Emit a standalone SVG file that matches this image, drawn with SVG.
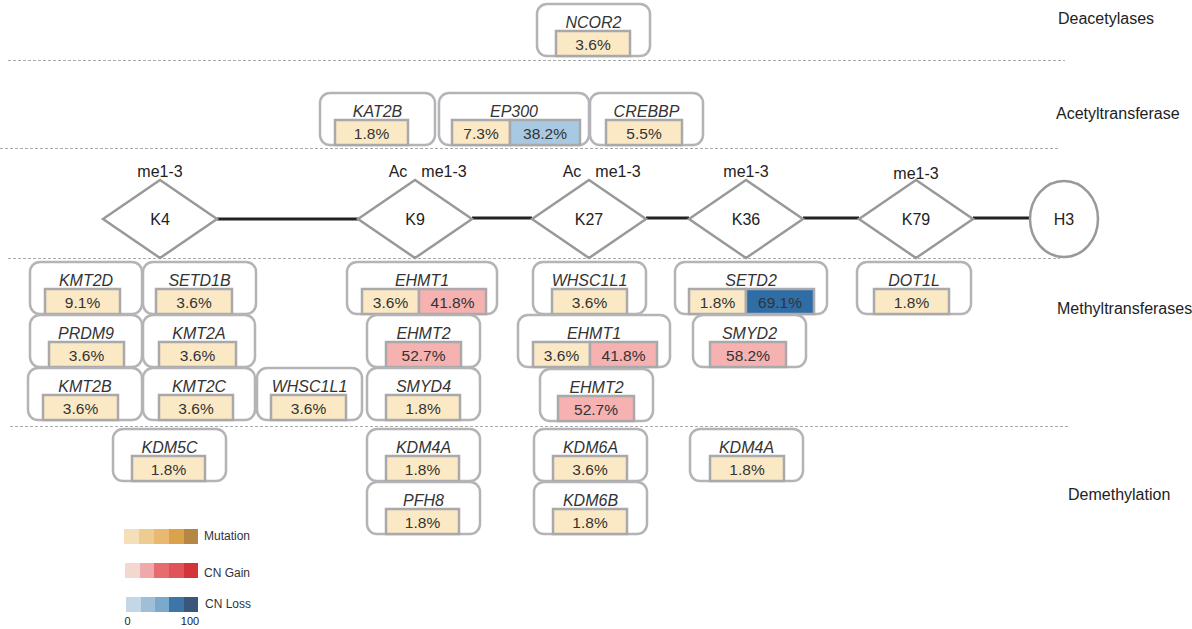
<svg xmlns="http://www.w3.org/2000/svg" width="1192" height="629" viewBox="0 0 1192 629">
<style>
text{font-family:"Liberation Sans",Arial,sans-serif;fill:#333}
.box{fill:#fff;stroke:#b4b4b8;stroke-width:2.5}
.v{stroke:#a9a9ab;stroke-width:2.5}
.y{fill:#fbe9c5}
.p{fill:#f6b1b1}
.lb{fill:#a9c9e2}
.db{fill:#2f6da6}
.g{font-size:16px;font-style:italic;text-anchor:middle}
.n{font-size:15.5px;text-anchor:middle}
.cat{font-size:16px;fill:#222}
.dash{stroke:#aaa;stroke-width:1;stroke-dasharray:3 2;fill:none}
.dia{fill:#fff;stroke:#999;stroke-width:2.5}
.k{font-size:16px;text-anchor:middle;fill:#222}
.conn{stroke:#222;stroke-width:3}
.leg{font-size:12px;fill:#333}
.ax{font-size:11px;text-anchor:middle;fill:#222}
</style>
<rect width="1192" height="629" fill="#fff"/>
<g id="separators">
<line class="dash" x1="8" y1="60.5" x2="1065" y2="60.5"/>
<line class="dash" x1="0" y1="148.5" x2="1060" y2="148.5"/>
<line class="dash" x1="8" y1="258.5" x2="1060" y2="258.5"/>
<line class="dash" x1="10" y1="426.5" x2="1068" y2="426.5"/>
</g>
<g id="categories">
<text class="cat" x="1058" y="24">Deacetylases</text>
<text class="cat" x="1056" y="119">Acetyltransferase</text>
<text class="cat" x="1057" y="314">Methyltransferases</text>
<text class="cat" x="1068" y="500">Demethylation</text>
</g>
<g id="connectors">
<line class="conn" x1="217" y1="219" x2="358" y2="219"/>
<line class="conn" x1="472" y1="218" x2="532" y2="218"/>
<line class="conn" x1="646" y1="218" x2="689" y2="218"/>
<line class="conn" x1="803" y1="218" x2="859" y2="218"/>
<line class="conn" x1="973" y1="218" x2="1030" y2="218"/>
</g>
<g id="K4">
<polygon class="dia" points="103,219 160,180 217,219 160,258"/>
<text class="k" x="160" y="225">K4</text>
<text class="k" x="160" y="177">me1-3</text>
</g>
<g id="K9">
<polygon class="dia" points="358,219 415,180 472,219 415,258"/>
<text class="k" x="415" y="225">K9</text>
<text class="k" x="398" y="177">Ac</text>
<text class="k" x="444" y="177">me1-3</text>
</g>
<g id="K27">
<polygon class="dia" points="532,219 589,180 646,219 589,258"/>
<text class="k" x="589" y="225">K27</text>
<text class="k" x="572" y="177">Ac</text>
<text class="k" x="618" y="177">me1-3</text>
</g>
<g id="K36">
<polygon class="dia" points="689,219 746,180 803,219 746,258"/>
<text class="k" x="746" y="225">K36</text>
<text class="k" x="746" y="177">me1-3</text>
</g>
<g id="K79">
<polygon class="dia" points="859,219 916,180 973,219 916,258"/>
<text class="k" x="916" y="225">K79</text>
<text class="k" x="916" y="179">me1-3</text>
</g>
<g id="H3">
<ellipse class="dia" cx="1064" cy="219" rx="34" ry="38"/>
<text class="k" x="1064" y="225">H3</text>
</g>

<g id="NCOR2">
<rect class="box" x="537" y="4" width="113" height="52" rx="10"/>
<text class="g" x="593.5" y="28">NCOR2</text>
<rect class="v y" x="556" y="31" width="74" height="25"/>
<text class="n" x="593" y="50">3.6%</text>
</g>
<g id="KAT2B">
<rect class="box" x="320" y="93" width="115" height="52" rx="10"/>
<text class="g" x="377.5" y="117">KAT2B</text>
<rect class="v y" x="335" y="120" width="73" height="25"/>
<text class="n" x="371.5" y="139">1.8%</text>
</g>
<g id="EP300">
<rect class="box" x="439" y="93" width="150" height="52" rx="10"/>
<text class="g" x="514" y="117">EP300</text>
<rect class="v y" x="452" y="120" width="58" height="25"/>
<rect class="v lb" x="510" y="120" width="70" height="25"/>
<text class="n" x="481" y="139">7.3%</text>
<text class="n" x="545" y="139">38.2%</text>
</g>
<g id="CREBBP">
<rect class="box" x="590" y="93" width="113" height="52" rx="10"/>
<text class="g" x="646.5" y="117">CREBBP</text>
<rect class="v y" x="606" y="120" width="76" height="25"/>
<text class="n" x="644" y="139">5.5%</text>
</g>

<g id="KMT2D">
<rect class="box" x="30" y="262" width="112" height="52" rx="10"/>
<text class="g" x="86" y="286">KMT2D</text>
<rect class="v y" x="45" y="289" width="75" height="25"/>
<text class="n" x="82.5" y="308">9.1%</text>
</g>
<g id="SETD1B">
<rect class="box" x="143" y="262" width="113" height="52" rx="10"/>
<text class="g" x="199.5" y="286">SETD1B</text>
<rect class="v y" x="156" y="289" width="76" height="25"/>
<text class="n" x="194" y="308">3.6%</text>
</g>
<g id="PRDM9">
<rect class="box" x="30" y="315" width="112" height="52" rx="10"/>
<text class="g" x="86" y="339">PRDM9</text>
<rect class="v y" x="49" y="342" width="75" height="25"/>
<text class="n" x="86.5" y="361">3.6%</text>
</g>
<g id="KMT2A">
<rect class="box" x="143" y="315" width="112" height="52" rx="10"/>
<text class="g" x="199" y="339">KMT2A</text>
<rect class="v y" x="159" y="342" width="77" height="25"/>
<text class="n" x="197.5" y="361">3.6%</text>
</g>
<g id="KMT2B">
<rect class="box" x="28" y="368" width="114" height="52" rx="10"/>
<text class="g" x="85" y="392">KMT2B</text>
<rect class="v y" x="43" y="395" width="75" height="25"/>
<text class="n" x="80.5" y="414">3.6%</text>
</g>
<g id="KMT2C">
<rect class="box" x="143" y="368" width="112" height="52" rx="10"/>
<text class="g" x="199" y="392">KMT2C</text>
<rect class="v y" x="159" y="395" width="74" height="25"/>
<text class="n" x="196" y="414">3.6%</text>
</g>
<g id="WHSC1L1-K4">
<rect class="box" x="257" y="368" width="105" height="52" rx="10"/>
<text class="g" x="309.5" y="392">WHSC1L1</text>
<rect class="v y" x="271" y="395" width="75" height="25"/>
<text class="n" x="308.5" y="414">3.6%</text>
</g>
<g id="EHMT1-K9">
<rect class="box" x="347" y="262" width="150" height="52" rx="10"/>
<text class="g" x="422" y="286">EHMT1</text>
<rect class="v y" x="362" y="289" width="57" height="25"/>
<rect class="v p" x="419" y="289" width="67" height="25"/>
<text class="n" x="390.5" y="308">3.6%</text>
<text class="n" x="452.5" y="308">41.8%</text>
</g>
<g id="EHMT2-K9">
<rect class="box" x="367" y="315" width="113" height="52" rx="10"/>
<text class="g" x="423.5" y="339">EHMT2</text>
<rect class="v p" x="386" y="342" width="75" height="25"/>
<text class="n" x="423.5" y="361">52.7%</text>
</g>
<g id="SMYD4">
<rect class="box" x="367" y="368" width="113" height="52" rx="10"/>
<text class="g" x="423.5" y="392">SMYD4</text>
<rect class="v y" x="386" y="395" width="74" height="25"/>
<text class="n" x="423" y="414">1.8%</text>
</g>
<g id="WHSC1L1-K27">
<rect class="box" x="533" y="262" width="113" height="52" rx="10"/>
<text class="g" x="589.5" y="286">WHSC1L1</text>
<rect class="v y" x="552" y="289" width="75" height="25"/>
<text class="n" x="589.5" y="308">3.6%</text>
</g>
<g id="EHMT1-K27">
<rect class="box" x="518" y="315" width="152" height="52" rx="10"/>
<text class="g" x="594" y="339">EHMT1</text>
<rect class="v y" x="533" y="342" width="57" height="25"/>
<rect class="v p" x="590" y="342" width="67" height="25"/>
<text class="n" x="561.5" y="361">3.6%</text>
<text class="n" x="623.5" y="361">41.8%</text>
</g>
<g id="EHMT2-K27">
<rect class="box" x="540" y="369" width="113" height="52" rx="10"/>
<text class="g" x="596.5" y="393">EHMT2</text>
<rect class="v p" x="558" y="396" width="76" height="25"/>
<text class="n" x="596" y="415">52.7%</text>
</g>
<g id="SETD2">
<rect class="box" x="675" y="262" width="152" height="52" rx="10"/>
<text class="g" x="751" y="286">SETD2</text>
<rect class="v y" x="689" y="289" width="57" height="25"/>
<rect class="v db" x="746" y="289" width="68" height="25"/>
<text class="n" x="717.5" y="308">1.8%</text>
<text class="n" x="780" y="308">69.1%</text>
</g>
<g id="SMYD2">
<rect class="box" x="693" y="315" width="113" height="52" rx="10"/>
<text class="g" x="749.5" y="339">SMYD2</text>
<rect class="v p" x="710" y="342" width="76" height="25"/>
<text class="n" x="748" y="361">58.2%</text>
</g>
<g id="DOT1L">
<rect class="box" x="857" y="262" width="114" height="52" rx="10"/>
<text class="g" x="914" y="286">DOT1L</text>
<rect class="v y" x="874" y="289" width="75" height="25"/>
<text class="n" x="911.5" y="308">1.8%</text>
</g>

<g id="KDM5C">
<rect class="box" x="113" y="429" width="113" height="52" rx="10"/>
<text class="g" x="169.5" y="453">KDM5C</text>
<rect class="v y" x="132" y="456" width="73" height="25"/>
<text class="n" x="168.5" y="475">1.8%</text>
</g>
<g id="KDM4A-K9">
<rect class="box" x="367" y="429" width="113" height="52" rx="10"/>
<text class="g" x="423.5" y="453">KDM4A</text>
<rect class="v y" x="386" y="456" width="73" height="25"/>
<text class="n" x="422.5" y="475">1.8%</text>
</g>
<g id="PFH8">
<rect class="box" x="367" y="482" width="113" height="52" rx="10"/>
<text class="g" x="423.5" y="506">PFH8</text>
<rect class="v y" x="386" y="509" width="73" height="25"/>
<text class="n" x="422.5" y="528">1.8%</text>
</g>
<g id="KDM6A">
<rect class="box" x="534" y="429" width="113" height="52" rx="10"/>
<text class="g" x="590.5" y="453">KDM6A</text>
<rect class="v y" x="553" y="456" width="74" height="25"/>
<text class="n" x="590" y="475">3.6%</text>
</g>
<g id="KDM6B">
<rect class="box" x="534" y="482" width="113" height="52" rx="10"/>
<text class="g" x="590.5" y="506">KDM6B</text>
<rect class="v y" x="553" y="509" width="74" height="25"/>
<text class="n" x="590" y="528">1.8%</text>
</g>
<g id="KDM4A-K36">
<rect class="box" x="690" y="429" width="113" height="52" rx="10"/>
<text class="g" x="746.5" y="453">KDM4A</text>
<rect class="v y" x="710" y="456" width="74" height="25"/>
<text class="n" x="747" y="475">1.8%</text>
</g>

<g id="legend">
<rect x="124" y="529" width="15" height="15" fill="#f5dfb9"/>
<rect x="139" y="529" width="15" height="15" fill="#eecb90"/>
<rect x="154" y="529" width="15" height="15" fill="#e9b970"/>
<rect x="169" y="529" width="15" height="15" fill="#d9a24b"/>
<rect x="184" y="529" width="14" height="15" fill="#b48742"/>
<text class="leg" x="204" y="540">Mutation</text>
<rect x="125" y="563" width="15" height="15" fill="#f3d8d0"/>
<rect x="140" y="563" width="14" height="15" fill="#f0a9aa"/>
<rect x="154" y="563" width="15" height="15" fill="#e66c70"/>
<rect x="169" y="563" width="15" height="15" fill="#e1535b"/>
<rect x="184" y="563" width="14" height="15" fill="#d23439"/>
<text class="leg" x="204" y="577">CN Gain</text>
<rect x="126" y="597" width="15" height="15" fill="#c3d7e6"/>
<rect x="141" y="597" width="14" height="15" fill="#9ebfd7"/>
<rect x="155" y="597" width="14" height="15" fill="#7ba9cb"/>
<rect x="169" y="597" width="15" height="15" fill="#3d76a6"/>
<rect x="184" y="597" width="14" height="15" fill="#3a567a"/>
<text class="leg" x="205" y="608">CN Loss</text>
<text class="ax" x="127.5" y="625">0</text>
<text class="ax" x="190" y="625">100</text>
</g>
</svg>
